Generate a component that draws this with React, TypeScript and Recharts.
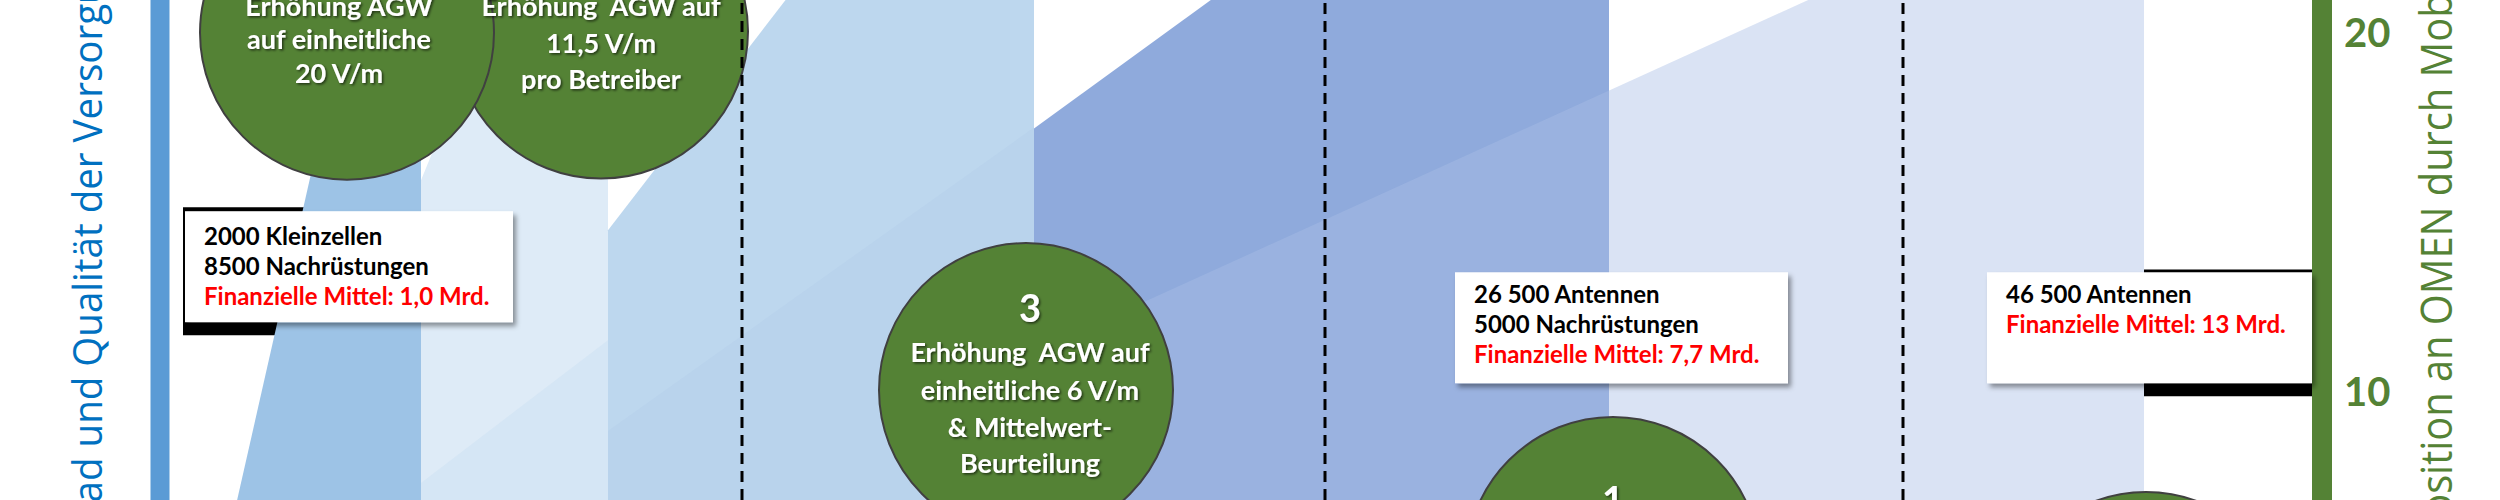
import React from "react";
import {
  ComposedChart,
  Area,
  Scatter,
  XAxis,
  YAxis,
  ReferenceLine,
} from "recharts";

// x = Zeitachse (Skaleneinheiten), y = Exposition an OMEN in V/m (rechte Achse)
const FLOOR = 5;

// Ausbaustufen (blaue Flaechen): Stuetzstellen der Oberkante
const stageA_x = [9.16, 14.04, 16.84];
const stageA_top = [6.0, 21.0, 21.0];
const stageB_x = [16.84, 19.84, 24.32];
const stageB_top = [15.9, 21.0, 21.0];
const stageC_x = [24.32, 31.51, 41.36];
const stageC_top = [14.51, 21.0, 21.0];
const stageD_x = [41.36, 48.59, 64.36];
const stageD_top = [17.34, 21.0, 21.0];
const stageE_x = [41.36, 72.58, 85.76];
const stageE_top = [11.12, 21.0, 21.0];

// schwache Rampen-Ueberlagerungen
const rampB_x = [16.84, 24.32];
const rampB_top = [7.47, 11.45];
const rampC_x = [24.32, 41.36];
const rampC_top = [8.92, 17.37];

// schwarze Balken hinter den Infoboxen
const bar1_x = [7.32, 16.84];
const bar1_range = [11.59, 15.15];
const bar3_x = [85.76, 92.52];
const bar3_range = [9.89, 13.42];

// Stufengrenzen
const stageBounds = [29.68, 53.0, 76.12];

// Achsenticks rechts
const rightTicks = [10, 20];

// Kreise (Massnahmen), in Zeichenreihenfolge
const circleX = [24.04, 13.88, 41.04, 64.52, 85.84];
const circleY = [20.04, 20.01, 10.06, 5.22, 3.13];
const circleNum = ["", "", "3", "1", ""];
const circleLines = [
  ["Erhöhung  AGW auf", "11,5 V/m", "pro Betreiber"],
  ["Erhöhung AGW", "auf einheitliche", "20 V/m"],
  ["Erhöhung  AGW auf", "einheitliche 6 V/m", "& Mittelwert-", "Beurteilung"],
  [],
  [],
];

// Infoboxen
const boxX = [7.4, 58.2, 79.48];
const boxY = [15.04, 13.34, 13.34];
const boxLines = [
  ["2000 Kleinzellen", "8500 Nachrüstungen"],
  ["26 500 Antennen", "5000 Nachrüstungen"],
  ["46 500 Antennen"],
];
const boxCost = [
  "Finanzielle Mittel: 1,0 Mrd.",
  "Finanzielle Mittel: 7,7 Mrd.",
  "Finanzielle Mittel: 13 Mrd.",
];

const leftTitle = "Ausbaugrad und Qualität der Versorgung";
const rightTitle = "Exposition an OMEN durch Mobilfunk";

// ---- layout / styles ----
const R = 147;
const CIRCLE_DX = [0, -8, 4, 0, 0];
const CIRCLE_NUM_DY = [0, 0, -68, -50, 0];
const CIRCLE_TEXT_DY = [
  [-16, 21, 57],
  [-17, 16, 50],
  [-28, 10, 47, 83],
  [],
  [],
];
const BOX_W = [328, 333, 325];
const BOX_H = 111;
const BOX_TEXT_TOP = [34, 31, 31];
const FONT = "Lato, 'Open Sans', sans-serif";

const toBand = (xs: number[], tops: number[]) =>
  xs.map((x, i) => ({ x, band: [FLOOR, tops[i]] }));
const toBar = (xs: number[], r: number[]) =>
  xs.map((x) => ({ x, band: [r[0], r[1]] }));

const circleData = circleX.map((x, i) => ({ x, y: circleY[i], i }));
const boxData = boxX.map((x, i) => ({ x, y: boxY[i], i }));

function DiscShape(props: any) {
  const { cx, cy } = props;
  return <circle cx={cx} cy={cy} r={R} fill="#548235" stroke="#404040" strokeWidth={2} />;
}

function DiscTextShape(props: any) {
  const { cx, cy, payload } = props;
  const i = payload.i;
  const tx = cx + CIRCLE_DX[i];
  const fid = `ts${i}`;
  return (
    <g>
      <defs>
        <filter id={fid} x="-20%" y="-40%" width="140%" height="180%">
          <feDropShadow dx="1.5" dy="1.5" stdDeviation="1.3" floodColor="#000" floodOpacity="0.6" />
        </filter>
      </defs>
      {circleNum[i] && (
        <text x={tx} y={cy + CIRCLE_NUM_DY[i]} textAnchor="middle" fill="#fff"
          fontFamily={FONT} fontWeight={700} fontSize={38} filter={`url(#${fid})`}>
          {circleNum[i]}
        </text>
      )}
      {circleLines[i].map((t, k) => (
        <text key={k} x={tx} y={cy + CIRCLE_TEXT_DY[i][k]} textAnchor="middle" fill="#fff"
          fontFamily={FONT} fontWeight={700} fontSize={27} filter={`url(#${fid})`}
          style={{ whiteSpace: "pre" }}>
          {t}
        </text>
      ))}
    </g>
  );
}

function BoxShape(props: any) {
  const { cx, cy, payload } = props;
  const i = payload.i;
  const fid = `bs${i}`;
  const lines = boxLines[i];
  const top = cy + BOX_TEXT_TOP[i];
  return (
    <g>
      <defs>
        <filter id={fid} x="-10%" y="-20%" width="125%" height="150%">
          <feDropShadow dx="3" dy="4" stdDeviation="2.5" floodColor="#000" floodOpacity="0.4" />
        </filter>
      </defs>
      <rect x={cx} y={cy} width={BOX_W[i]} height={BOX_H} fill="#fff" filter={`url(#${fid})`} />
      {lines.map((t, k) => (
        <text key={k} x={cx + 19} y={top + k * 30} fill="#000" fontFamily={FONT}
          fontWeight={700} fontSize={24}>
          {t}
        </text>
      ))}
      <text x={cx + 19} y={top + lines.length * 30} fill="#ff0000" fontFamily={FONT}
        fontWeight={700} fontSize={24}>
        {boxCost[i]}
      </text>
    </g>
  );
}

function LeftTitle() {
  return (
    <text transform="translate(102,674) rotate(-90) scale(0.94,1)" fill="#0070c0"
      fontFamily="'Open Sans', sans-serif" fontSize={41}>
      {leftTitle}
    </text>
  );
}

function RightTitle() {
  return (
    <text transform="translate(2452,585) rotate(-90) scale(0.925,1)" fill="#548235"
      fontFamily="'Open Sans', sans-serif" fontSize={43}>
      {rightTitle}
    </text>
  );
}

const stages = [
  { data: toBar(bar1_x, bar1_range), fill: "#000000", op: 1 },
  { data: toBar(bar3_x, bar3_range), fill: "#000000", op: 1 },
  { data: toBand(stageB_x, stageB_top), fill: "#deebf7", op: 1 },
  { data: toBand(stageA_x, stageA_top), fill: "#9dc3e6", op: 1 },
  { data: toBand(stageC_x, stageC_top), fill: "#bdd7ee", op: 1 },
  { data: toBand(stageD_x, stageD_top), fill: "#8faadc", op: 1 },
  { data: toBand(stageE_x, stageE_top), fill: "#a9bde5", op: 0.43 },
  { data: toBand(rampB_x, rampB_top), fill: "#bdd7ee", op: 0.25 },
  { data: toBand(rampC_x, rampC_top), fill: "#8faadc", op: 0.08 },
];

export default function App() {
  return (
    <div style={{ position: "absolute", left: 0, top: 0, width: 2500, height: 500, background: "#fff" }}>
      <ComposedChart width={2500} height={500} margin={{ top: 0, right: 0, bottom: 0, left: 0 }}>
        <XAxis type="number" dataKey="x" domain={[6.4, 92.88]} allowDataOverflow hide />
        <YAxis
          yAxisId="left"
          width={160}
          domain={[7.0, 20.92]}
          allowDataOverflow
          tick={false}
          tickLine={false}
          axisLine={{ stroke: "#5b9bd5", strokeWidth: 19 }}
          label={<LeftTitle />}
        />
        <YAxis
          yAxisId="right"
          orientation="right"
          width={178}
          domain={[7.0, 20.92]}
          allowDataOverflow
          ticks={rightTicks}
          tickLine={false}
          tickSize={0}
          tickMargin={22}
          axisLine={{ stroke: "#548235", strokeWidth: 20 }}
          tick={{ fill: "#548235", fontSize: 40, fontWeight: 700, fontFamily: FONT }}
          label={<RightTitle />}
        />
        {stages.map((s, k) => (
          <Area
            key={k}
            yAxisId="right"
            data={s.data}
            dataKey="band"
            type="linear"
            stroke="none"
            fill={s.fill}
            fillOpacity={s.op}
            dot={false}
            activeDot={false}
            isAnimationActive={false}
          />
        ))}
        <Scatter yAxisId="right" data={boxData} dataKey="y" shape={BoxShape} isAnimationActive={false} />
        <Scatter yAxisId="right" data={circleData} dataKey="y" shape={DiscShape} isAnimationActive={false} />
        <Scatter yAxisId="right" data={circleData} dataKey="y" shape={DiscTextShape} isAnimationActive={false} />
        {stageBounds.map((x) => (
          <ReferenceLine
            key={x}
            yAxisId="right"
            x={x}
            stroke="#000"
            strokeWidth={3}
            strokeDasharray="11 7"
            zIndex={700}
          />
        ))}
      </ComposedChart>
    </div>
  );
}
